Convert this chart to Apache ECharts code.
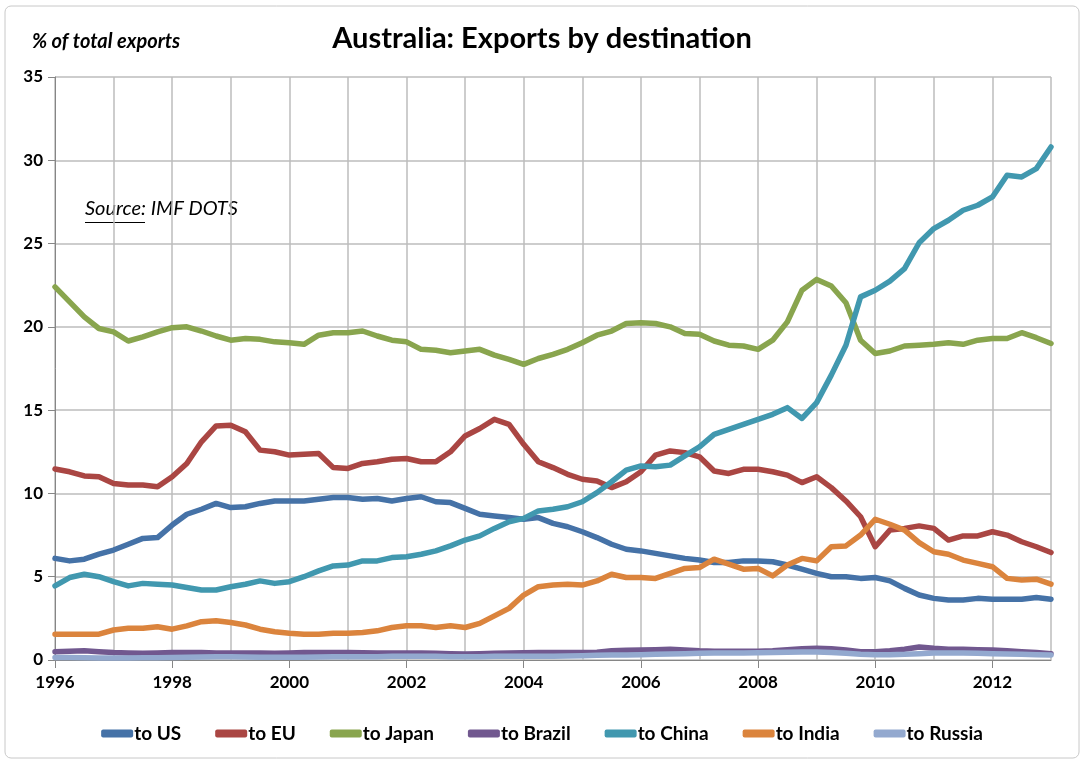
<!DOCTYPE html>
<html>
<head>
<meta charset="utf-8">
<title>Australia: Exports by destination</title>
<script src="https://cdn.jsdelivr.net/npm/echarts@6/dist/echarts.min.js"></script>
<style>
  html, body { margin: 0; padding: 0; background: #fff; }
  #chart { width: 1084px; height: 762px; }
</style>
</head>
<body>
<div id="chart"></div>
<script>
// quarterly, 1996Q1 .. 2013Q1
var quarters = [];
for (var y = 1996; y <= 2013; y++) {
  for (var q = 1; q <= 4; q++) {
    if (y === 2013 && q > 1) break;
    quarters.push(y + 'Q' + q);
  }
}

var toUS = [6.1,5.95,6.05,6.35,6.6,6.95,7.3,7.35,8.1,8.75,
  9.05,9.4,9.15,9.2,9.4,9.55,9.55,9.55,9.65,9.75,
  9.75,9.65,9.7,9.55,9.7,9.8,9.5,9.45,9.1,8.75,
  8.65,8.55,8.45,8.55,8.2,8.0,7.7,7.35,6.95,6.65,
  6.55,6.4,6.25,6.1,6.0,5.85,5.85,5.95,5.95,5.9,
  5.7,5.45,5.2,5.0,5.0,4.9,4.95,4.75,4.3,3.9,
  3.7,3.6,3.6,3.7,3.65,3.65,3.65,3.75,3.65];

var toEU = [11.47,11.3,11.05,11.0,10.6,10.5,10.5,10.4,11.0,11.8,
  13.1,14.05,14.1,13.7,12.6,12.5,12.3,12.35,12.4,11.55,
  11.5,11.8,11.9,12.05,12.1,11.9,11.9,12.5,13.45,13.9,
  14.45,14.15,12.95,11.9,11.55,11.15,10.85,10.75,10.35,10.7,
  11.3,12.3,12.55,12.45,12.2,11.35,11.2,11.45,11.45,11.3,
  11.1,10.65,11.0,10.35,9.55,8.6,6.8,7.8,7.9,8.05,
  7.9,7.2,7.45,7.45,7.7,7.5,7.1,6.8,6.45];

var toJapan = [22.4,21.5,20.6,19.9,19.7,19.15,19.4,19.7,19.95,20.0,
  19.75,19.45,19.2,19.3,19.25,19.1,19.05,18.95,19.5,19.65,
  19.65,19.75,19.45,19.2,19.1,18.65,18.6,18.45,18.55,18.65,
  18.3,18.05,17.75,18.1,18.35,18.65,19.05,19.5,19.75,20.2,
  20.25,20.2,20.0,19.6,19.55,19.15,18.9,18.85,18.65,19.2,
  20.3,22.2,22.85,22.45,21.45,19.2,18.4,18.55,18.85,18.9,
  18.95,19.05,18.95,19.2,19.3,19.3,19.65,19.35,19.0];

var toBrazil = [0.5,0.52,0.55,0.5,0.45,0.42,0.4,0.42,0.45,0.45,
  0.45,0.42,0.42,0.42,0.42,0.4,0.42,0.45,0.45,0.45,
  0.45,0.43,0.42,0.42,0.42,0.42,0.4,0.38,0.36,0.38,
  0.4,0.42,0.44,0.45,0.45,0.45,0.45,0.47,0.55,0.58,
  0.6,0.62,0.65,0.6,0.55,0.52,0.52,0.52,0.52,0.55,
  0.62,0.68,0.7,0.68,0.6,0.5,0.5,0.55,0.65,0.78,
  0.7,0.65,0.65,0.62,0.6,0.55,0.5,0.45,0.38];

var toChina = [4.45,4.95,5.15,5.0,4.7,4.45,4.6,4.55,4.5,4.35,
  4.2,4.2,4.4,4.55,4.75,4.6,4.7,5.0,5.35,5.65,
  5.7,5.95,5.95,6.15,6.2,6.35,6.55,6.85,7.2,7.45,
  7.9,8.3,8.5,8.95,9.05,9.2,9.5,10.05,10.7,11.4,
  11.65,11.6,11.7,12.25,12.8,13.55,13.85,14.15,14.45,14.75,
  15.15,14.5,15.45,17.1,18.9,21.8,22.2,22.75,23.5,25.05,
  25.9,26.4,27.0,27.3,27.8,29.1,29.0,29.5,30.8];

var toIndia = [1.55,1.55,1.55,1.55,1.8,1.9,1.9,2.0,1.85,2.05,
  2.3,2.35,2.25,2.1,1.85,1.7,1.6,1.55,1.55,1.6,
  1.6,1.65,1.75,1.95,2.05,2.05,1.95,2.05,1.95,2.2,
  2.65,3.1,3.9,4.4,4.5,4.55,4.5,4.75,5.15,4.95,
  4.95,4.9,5.2,5.5,5.55,6.05,5.75,5.45,5.5,5.05,
  5.7,6.1,5.95,6.8,6.85,7.5,8.45,8.15,7.8,7.05,
  6.5,6.35,6.0,5.8,5.6,4.9,4.8,4.85,4.55];

var toRussia = [0.15,0.15,0.14,0.12,0.12,0.12,0.13,0.14,0.15,0.16,
  0.18,0.2,0.2,0.18,0.16,0.16,0.16,0.17,0.18,0.2,
  0.2,0.2,0.2,0.22,0.22,0.22,0.22,0.2,0.2,0.2,
  0.22,0.22,0.22,0.22,0.22,0.24,0.26,0.28,0.3,0.3,
  0.32,0.34,0.36,0.38,0.4,0.42,0.42,0.42,0.44,0.45,
  0.46,0.48,0.48,0.45,0.4,0.35,0.32,0.32,0.34,0.38,
  0.42,0.42,0.42,0.4,0.38,0.36,0.34,0.32,0.3];

var seriesNames = ['to US', 'to EU', 'to Japan', 'to Brazil', 'to China', 'to India', 'to Russia'];
var seriesData = [toUS, toEU, toJapan, toBrazil, toChina, toIndia, toRussia];
var colors = ['#4572A7', '#AA4643', '#89A54E', '#71588F', '#4198AF', '#DB843D', '#93A9CF'];

var font = 'Lato, "Open Sans", sans-serif';

var chart = echarts.init(document.getElementById('chart'));

chart.setOption({
  animation: false,
  color: colors,
  title: {
    text: 'Australia: Exports by destination',
    left: 'center',
    top: 19,
    textStyle: { fontFamily: font, fontSize: 29, fontWeight: 'bold', color: '#000' }
  },
  graphic: [
    {
      type: 'rect',
      shape: { x: 5, y: 6, width: 1074, height: 752, r: 6 },
      style: { fill: 'none', stroke: '#c8c8c8', lineWidth: 1 },
      silent: true
    },
    {
      type: 'text',
      left: 32, top: 32,
      style: { text: '% of total exports', font: 'italic bold 20px ' + font, fill: '#000' }
    },
    {
      type: 'text',
      left: 85, top: 199,
      style: { text: 'Source: IMF DOTS', font: 'italic 20px ' + font, fill: '#000' }
    },
    {
      type: 'line',
      shape: { x1: 85, y1: 222.5, x2: 145, y2: 222.5 },
      style: { stroke: '#000', lineWidth: 1.2 }
    }
  ],
  legend: {
    bottom: 14,
    left: 'center',
    itemGap: 34,
    itemWidth: 32,
    itemHeight: 8,
    icon: 'roundRect',
    textStyle: { fontFamily: font, fontSize: 19, fontWeight: 'bold', color: '#000', padding: [0, 0, 0, -4] },
    data: seriesNames
  },
  grid: { left: 55, right: 33, top: 77, bottom: 102 },
  xAxis: {
    type: 'category',
    data: quarters,
    boundaryGap: false,
    axisLine: { lineStyle: { color: '#868686', width: 1 } },
    axisTick: { interval: 7, length: 8, lineStyle: { color: '#868686' } },
    axisLabel: {
      interval: 7,
      margin: 14,
      fontFamily: font, fontSize: 17, fontWeight: 'bold', color: '#000',
      formatter: function (v) { return v.slice(0, 4); }
    },
    splitLine: { show: true, interval: 3, lineStyle: { color: '#bdbdbd', width: 1.5 } }
  },
  yAxis: {
    type: 'value',
    min: 0, max: 35, interval: 5,
    axisLine: { show: true, lineStyle: { color: '#868686', width: 1 } },
    axisTick: { show: true, length: 7, lineStyle: { color: '#868686' } },
    axisLabel: { margin: 12, fontFamily: font, fontSize: 17, fontWeight: 'bold', color: '#000' },
    splitLine: { lineStyle: { color: '#bdbdbd', width: 1.5 } }
  },
  series: seriesNames.map(function (name, i) {
    return {
      name: name,
      type: 'line',
      data: seriesData[i],
      showSymbol: false,
      symbol: 'none',
      lineStyle: { width: 5.5, color: colors[i], cap: 'round', join: 'round' },
      itemStyle: { color: colors[i] },
      z: 2
    };
  })
});
</script>
</body>
</html>
